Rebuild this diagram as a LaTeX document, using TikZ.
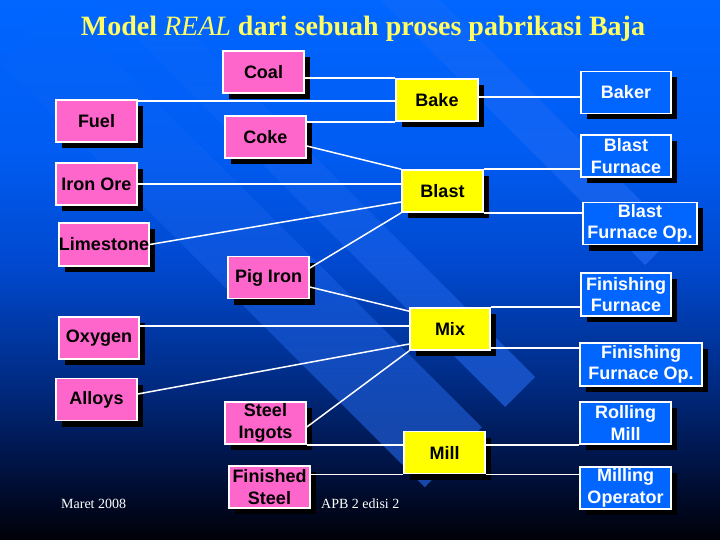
\documentclass[tikz,border=0pt]{standalone}
\usepackage{fontspec}
\setmainfont{Liberation Sans}
\newfontfamily\titlefont{Liberation Serif}
\usetikzlibrary{shadows,calc,fadings}
\definecolor{pinkbox}{RGB}{255,102,204}
\definecolor{yelbox}{RGB}{255,255,0}
\definecolor{bluebox}{RGB}{0,102,255}
\definecolor{titleyel}{RGB}{255,255,100}
\definecolor{bandcol}{RGB}{40,110,245}
\pgfdeclareverticalshading{bgshade}{100bp}{rgb(0bp)=(0,0,0.03); rgb(25bp)=(0,0,0.03); rgb(32.4bp)=(0,0.08,0.28); rgb(39.8bp)=(0,0.17,0.52); rgb(50bp)=(0,0.28,0.80); rgb(61bp)=(0,0.36,0.95); rgb(75bp)=(0,0.40,1); rgb(100bp)=(0,0.40,1)}
\begin{document}
\begin{tikzpicture}[x=1pt,y=-1pt,
  nbox/.style={draw=white, line width=1.6pt, inner sep=0pt, minimum height=42pt, align=center,
    font=\fontsize{18}{21.5}\selectfont\bfseries,
    drop shadow={shadow xshift=6pt, shadow yshift=-6pt, opacity=1, fill=black}},
  pinkb/.style={nbox, fill=pinkbox, text=black},
  yelb/.style={nbox, fill=yelbox, text=black},
  blueb/.style={nbox, fill=bluebox, text=white},
  conn/.style={draw=white, line width=1.5pt},
  band/.style={fill=bandcol, fill opacity=0.6, path fading=north}]
\useasboundingbox (0,0) rectangle (720,540);
\shade[shading=bgshade] (0,0) rectangle (720,540);
% decorative diagonal bands
\fill[band] (1,63) -- (58,3) -- (482,427) -- (425,487) -- cycle;
\fill[band] (81,-17) -- (111,-47) -- (535,377) -- (505,407) -- cycle;
\fill[band] (221,-159) -- (251,-189) -- (675,235) -- (645,265) -- cycle;
% title
\node[anchor=base, inner sep=0pt, text=titleyel, font=\titlefont\bfseries\fontsize{28}{32}\selectfont] (title) at (363,36) {Model {\mdseries\itshape REAL} dari sebuah proses pabrikasi Baja};
% nodes
\node[pinkb, minimum width=81pt] (coal) at (263.5,72) {Coal};
\node[pinkb, minimum width=81pt] (fuel) at (96.5,121) {Fuel};
\node[pinkb, minimum width=81pt] (coke) at (265.5,137) {Coke};
\node[pinkb, minimum width=81pt] (ironore) at (96.5,184) {Iron Ore};
\node[pinkb, minimum width=90pt, minimum height=43pt] (limestone) at (104,244.5) {Limestone};
\node[pinkb, minimum width=81pt] (pigiron) at (268.5,277.5) {Pig Iron};
\node[pinkb, minimum width=80pt] (oxygen) at (99,338) {Oxygen};
\node[pinkb, minimum width=81pt] (alloys) at (96.5,399.5) {Alloys};
\node[pinkb, minimum width=81pt] (ingots) at (265.5,423) {Steel\\Ingots};
\node[pinkb, minimum width=81pt] (finished) at (269.5,487) {Finished\\Steel};
\node[yelb, minimum width=82pt] (bake) at (437,100) {Bake};
\node[yelb, minimum width=81pt] (blast) at (442.5,191) {Blast};
\node[yelb, minimum width=80pt] (mix) at (450,329) {Mix};
\node[yelb, minimum width=81pt] (mill) at (444.5,452.5) {Mill};
\node[blueb, minimum width=90pt] (baker) at (626,92.5) {Baker};
\node[blueb, minimum width=90pt] (bf) at (626,156) {Blast\\Furnace};
\node[blueb, minimum width=114pt] (bfop) at (640,223.5) {Blast\\Furnace Op.};
\node[blueb, minimum width=90pt, minimum height=43pt] (ff) at (626,294.5) {Finishing\\Furnace};
\node[blueb, minimum width=122pt, minimum height=43pt] (ffop) at (641,364.5) {Finishing\\Furnace Op.};
\node[blueb, minimum width=91pt] (rolling) at (625.5,423) {Rolling\\Mill};
\node[blueb, minimum width=91pt] (milling) at (625.5,488) {Milling\\Operator};
% footer
\node[anchor=base west, inner sep=0pt, text=white, font=\titlefont\fontsize{14}{16}\selectfont] (date) at (61,508) {Maret 2008};
\node[anchor=base west, inner sep=0pt, text=white, font=\titlefont\fontsize{14}{16}\selectfont] (apb) at (321,508) {APB 2 edisi 2};
% connectors
\draw[conn] (coal.east |- bake.north west) -- (bake.north west);
\draw[conn] ($(fuel.north east)+(0,2)$) coordinate (f1) -- (bake.west |- f1);
\draw[conn] (coke.east |- bake.south west) -- (bake.south west);
\draw[conn] ($(coke.east)+(0,9)$) -- (blast.north west);
\draw[conn] (ironore.east) -- (blast.west |- ironore.east);
\draw[conn] (limestone.east) -- ($(blast.west)+(0,11)$);
\draw[conn] ($(pigiron.east)+(0,-9.5)$) -- (blast.south west);
\draw[conn] ($(bake.east)+(0,-3)$) coordinate (b1) -- (baker.west |- b1);
\draw[conn] (blast.north east) -- (bf.west |- blast.north east);
\draw[conn] (blast.south east) -- (bfop.west |- blast.south east);
\draw[conn] ($(pigiron.east)+(0,9.5)$) -- ($(mix.north west)+(0,4)$);
\draw[conn] ($(oxygen.north east)+(0,10)$) coordinate (o1) -- (mix.west |- o1);
\draw[conn] ($(alloys.east)+(0,-5.5)$) -- ($(mix.west)+(0,15)$);
\draw[conn] ($(ingots.east)+(0,4)$) -- (mix.south west);
\draw[conn] (mix.north east) -- (ff.west |- mix.north east);
\draw[conn] ($(mix.south east)+(0,-3)$) coordinate (m1) -- (ffop.west |- m1);
\draw[conn] (ingots.south east) -- (mill.west |- ingots.south east);
\draw[conn] (finished.east |- mill.south west) -- (mill.south west);
\draw[conn] (mill.east |- rolling.south west) -- (rolling.south west);
\draw[conn] (mill.south east) -- (milling.west |- mill.south east);
\end{tikzpicture}
\end{document}
